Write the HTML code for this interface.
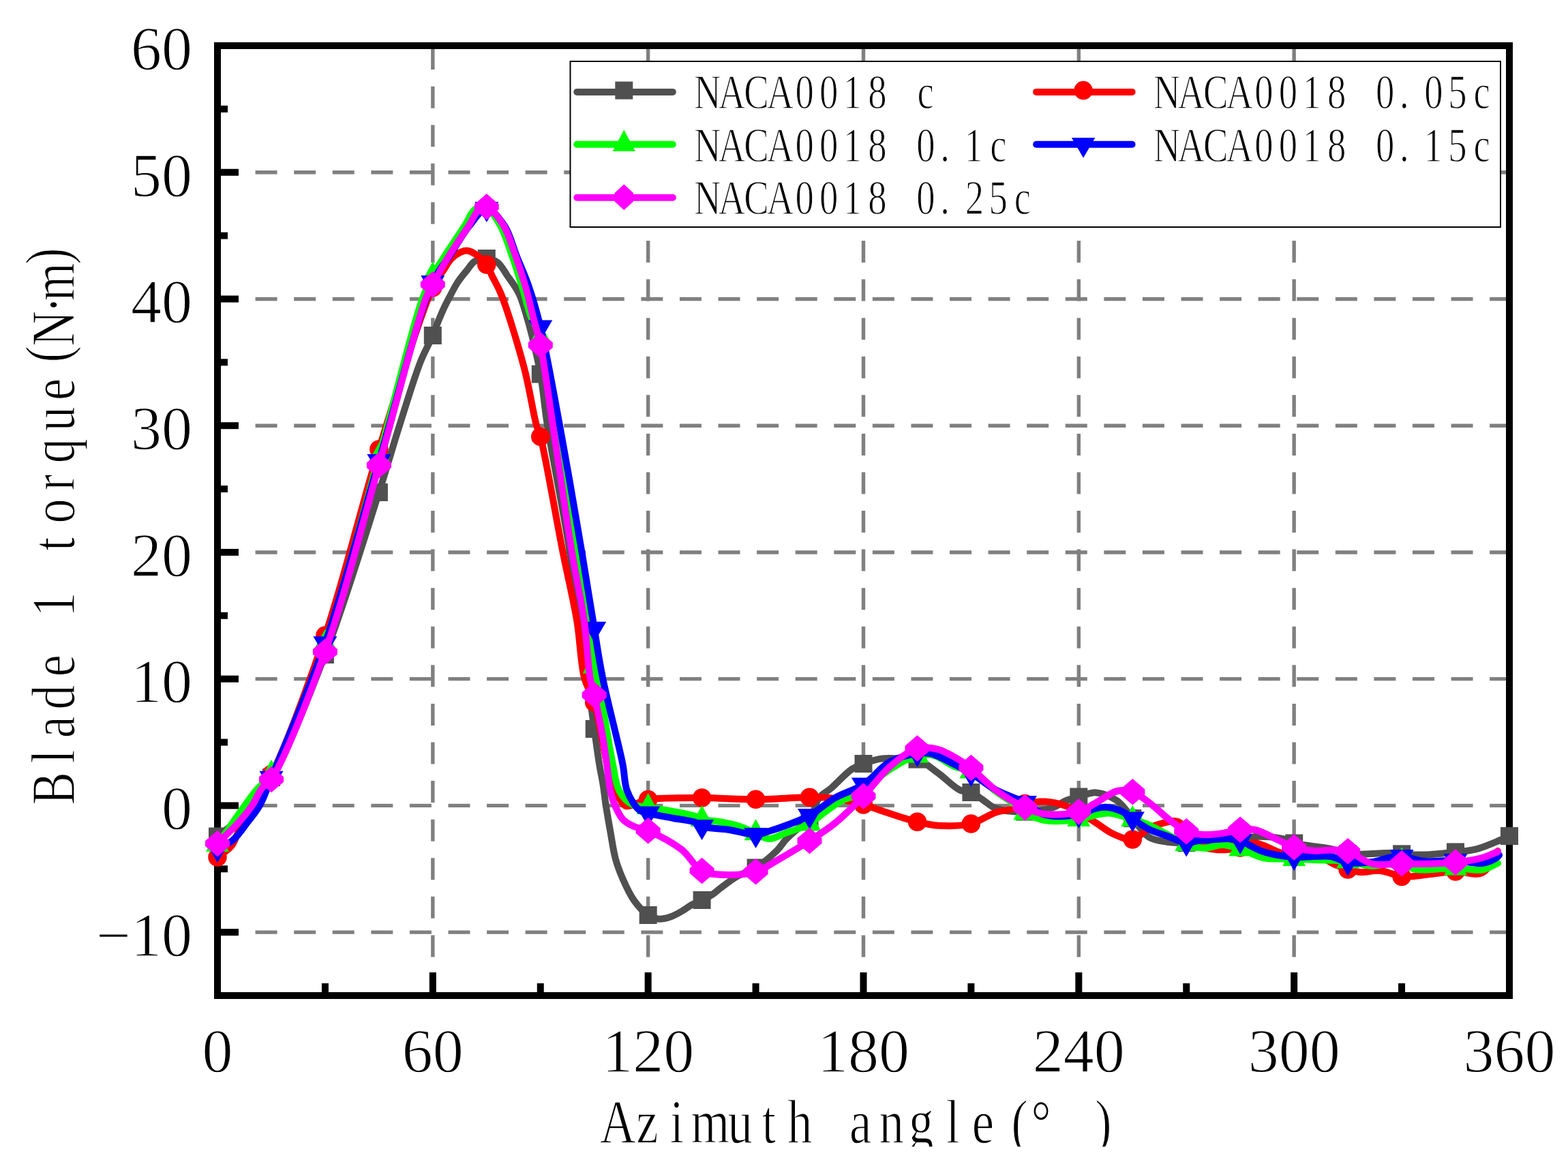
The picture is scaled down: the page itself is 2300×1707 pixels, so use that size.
<!DOCTYPE html>
<html><head><meta charset="utf-8"><title>Blade 1 torque vs Azimuth angle</title>
<style>html,body{margin:0;padding:0;background:#fff;overflow:hidden}svg{display:block}</style>
</head><body>
<svg width="2300" height="1707" viewBox="0 0 2300 1707">
<rect width="2300" height="1707" fill="#fff"/>
<g stroke="#808080" stroke-width="5.4" stroke-dasharray="32 24.58" fill="none"><path d="M318 1367.13H2214"/><path d="M318 1181.40H2214"/><path d="M318 995.67H2214"/><path d="M318 809.93H2214"/><path d="M318 624.20H2214"/><path d="M318 438.47H2214"/><path d="M318 252.73H2214"/><path d="M634.83 1460V67"/><path d="M950.67 1460V67"/><path d="M1266.50 1460V67"/><path d="M1582.33 1460V67"/><path d="M1898.17 1460V67"/></g>
<g fill="#000"><rect x="319" y="1362.13" width="31" height="10"/><rect x="319" y="1176.40" width="31" height="10"/><rect x="319" y="990.67" width="31" height="10"/><rect x="319" y="804.93" width="31" height="10"/><rect x="319" y="619.20" width="31" height="10"/><rect x="319" y="433.47" width="31" height="10"/><rect x="319" y="247.73" width="31" height="10"/><rect x="319" y="1269.27" width="15" height="10"/><rect x="319" y="1083.53" width="15" height="10"/><rect x="319" y="897.80" width="15" height="10"/><rect x="319" y="712.07" width="15" height="10"/><rect x="319" y="526.33" width="15" height="10"/><rect x="319" y="340.60" width="15" height="10"/><rect x="319" y="154.87" width="15" height="10"/><rect x="629.83" y="1426" width="10" height="34"/><rect x="945.67" y="1426" width="10" height="34"/><rect x="1261.50" y="1426" width="10" height="34"/><rect x="1577.33" y="1426" width="10" height="34"/><rect x="1893.17" y="1426" width="10" height="34"/><rect x="471.92" y="1442" width="10" height="18"/><rect x="787.75" y="1442" width="10" height="18"/><rect x="1103.58" y="1442" width="10" height="18"/><rect x="1419.42" y="1442" width="10" height="18"/><rect x="1735.25" y="1442" width="10" height="18"/><rect x="2051.08" y="1442" width="10" height="18"/></g>
<rect x="319" y="67" width="1895" height="1393" fill="none" stroke="#000" stroke-width="10"/>
<g font-family="Liberation Serif, serif" font-size="90" fill="#000" stroke="#fff" stroke-width="1.3"><text x="282" y="1401.93" text-anchor="end">−10</text><text x="282" y="1216.20" text-anchor="end">0</text><text x="282" y="1030.47" text-anchor="end">10</text><text x="282" y="844.73" text-anchor="end">20</text><text x="282" y="659.00" text-anchor="end">30</text><text x="282" y="473.27" text-anchor="end">40</text><text x="282" y="287.53" text-anchor="end">50</text><text x="282" y="101.80" text-anchor="end">60</text><text x="319.00" y="1571.5" text-anchor="middle">0</text><text x="634.83" y="1571.5" text-anchor="middle">60</text><text x="950.67" y="1571.5" text-anchor="middle">120</text><text x="1266.50" y="1571.5" text-anchor="middle">180</text><text x="1582.33" y="1571.5" text-anchor="middle">240</text><text x="1898.17" y="1571.5" text-anchor="middle">300</text><text x="2214.00" y="1571.5" text-anchor="middle">360</text></g>
<path d="M319.0 1226.5C326.0 1221.0 334.1 1215.0 340.0 1210.0C344.6 1206.1 347.0 1204.4 352.0 1199.0C362.7 1187.4 382.3 1166.3 398.0 1140.0C423.4 1097.4 452.0 1024.8 476.9 960.0C505.0 886.8 536.0 784.1 555.9 722.0C568.6 682.3 575.7 656.3 586.0 624.0C596.1 592.3 607.4 554.1 617.0 530.0C623.3 514.3 630.4 502.5 634.8 492.0C637.9 484.8 639.4 479.9 642.0 473.4C644.9 466.2 648.4 457.8 651.7 450.7C654.7 444.3 657.8 438.6 661.0 432.6C664.2 426.5 667.1 420.3 671.0 414.4C675.1 408.2 680.5 401.7 685.0 396.3C688.8 391.6 691.4 386.5 696.0 383.6C700.9 380.6 708.0 378.7 713.8 379.0C719.4 379.3 725.2 381.4 730.0 385.0C735.6 389.2 739.2 397.1 744.0 404.0C749.5 411.9 756.4 420.6 761.0 430.0C765.8 439.8 768.8 451.5 772.0 462.0C775.1 471.9 777.2 479.6 780.0 491.0C783.9 506.9 789.1 528.0 792.8 548.6C796.9 572.0 798.2 593.3 803.0 624.0C810.6 672.3 825.4 742.8 836.0 810.0C848.5 889.1 864.3 1015.9 871.7 1069.0C875.0 1092.6 876.6 1105.3 879.0 1120.0C880.8 1131.3 882.9 1140.0 884.5 1150.0C886.1 1160.0 887.0 1169.3 888.6 1180.0C890.5 1192.4 893.0 1206.7 895.4 1220.0C897.8 1233.3 899.6 1247.8 903.0 1260.0C906.0 1270.9 909.6 1280.1 914.0 1290.0C918.5 1300.1 923.4 1311.2 929.7 1320.0C935.7 1328.4 943.8 1337.4 950.7 1342.0C955.5 1345.3 959.9 1347.1 965.0 1347.6C970.6 1348.2 977.2 1346.6 983.0 1344.7C989.0 1342.8 995.1 1339.1 1000.6 1336.0C1005.7 1333.1 1010.1 1329.4 1015.0 1326.7C1019.8 1324.1 1024.8 1322.4 1029.6 1320.0C1034.5 1317.6 1039.4 1315.4 1044.0 1312.4C1048.8 1309.3 1052.8 1305.5 1058.0 1301.6C1064.5 1296.8 1072.0 1290.7 1080.0 1286.0C1088.7 1280.9 1099.2 1278.4 1108.6 1272.5C1119.2 1265.8 1132.1 1254.9 1140.0 1247.0C1145.6 1241.4 1147.7 1236.4 1153.0 1231.0C1159.5 1224.3 1170.4 1214.9 1177.0 1210.5C1181.0 1207.8 1184.4 1208.5 1187.5 1205.0C1193.1 1198.8 1194.8 1179.0 1201.0 1170.5C1205.9 1163.8 1212.3 1161.7 1219.0 1156.0C1227.9 1148.3 1240.4 1134.1 1249.5 1128.0C1255.6 1123.9 1260.1 1122.4 1266.5 1120.0C1274.3 1117.1 1284.0 1113.8 1293.0 1112.6C1301.9 1111.4 1311.1 1112.3 1320.0 1112.5C1328.6 1112.7 1336.9 1110.8 1345.5 1113.6C1355.9 1117.0 1366.7 1127.0 1377.0 1134.4C1387.5 1142.0 1398.8 1154.4 1408.0 1158.6C1414.0 1161.4 1419.0 1159.8 1424.4 1162.0C1430.4 1164.4 1436.1 1169.4 1442.0 1173.2C1448.1 1177.1 1452.6 1182.4 1460.5 1185.3C1471.5 1189.3 1489.2 1190.7 1503.4 1190.5C1517.4 1190.3 1534.2 1187.6 1545.0 1184.0C1552.5 1181.5 1556.8 1177.0 1563.0 1174.4C1569.2 1171.8 1575.4 1170.4 1582.3 1168.5C1590.3 1166.4 1599.1 1161.8 1608.0 1162.4C1618.0 1163.1 1630.1 1168.3 1639.0 1174.5C1647.9 1180.8 1653.8 1191.3 1661.3 1200.0C1669.1 1209.0 1675.8 1221.8 1685.0 1227.5C1693.0 1232.5 1702.8 1233.3 1712.0 1234.7C1721.2 1236.1 1729.1 1236.1 1740.2 1236.0C1756.5 1235.8 1785.6 1232.5 1800.0 1232.0C1808.2 1231.7 1812.6 1232.7 1819.2 1232.0C1826.3 1231.2 1832.6 1227.6 1841.0 1227.0C1852.3 1226.1 1870.6 1227.7 1881.0 1230.0C1888.1 1231.6 1891.9 1234.8 1898.2 1236.5C1905.4 1238.4 1913.6 1239.2 1922.0 1240.5C1931.4 1242.0 1942.5 1243.0 1952.0 1245.0C1960.8 1246.9 1968.8 1250.8 1977.1 1252.0C1985.1 1253.2 1992.2 1252.7 2001.0 1252.6C2011.8 1252.5 2026.9 1250.9 2037.0 1251.0C2044.4 1251.1 2048.8 1251.9 2056.1 1252.3C2065.8 1252.8 2077.9 1253.8 2090.0 1253.5C2104.0 1253.1 2121.7 1250.9 2135.0 1249.4C2145.8 1248.2 2154.3 1248.1 2164.0 1245.7C2174.3 1243.2 2186.0 1238.0 2195.0 1234.4C2202.2 1231.5 2207.7 1228.8 2214.0 1226.0" fill="none" stroke="#505050" stroke-width="10" stroke-linejoin="round" stroke-linecap="round"/>
<g fill="#505050"><rect x="306.0" y="1213.5" width="26" height="26"/><rect x="385.0" y="1127.0" width="26" height="26"/><rect x="463.9" y="947.0" width="26" height="26"/><rect x="542.9" y="709.0" width="26" height="26"/><rect x="621.8" y="479.0" width="26" height="26"/><rect x="700.8" y="366.0" width="26" height="26"/><rect x="779.8" y="535.6" width="26" height="26"/><rect x="858.7" y="1056.0" width="26" height="26"/><rect x="937.7" y="1329.0" width="26" height="26"/><rect x="1016.6" y="1307.0" width="26" height="26"/><rect x="1095.6" y="1259.5" width="26" height="26"/><rect x="1174.5" y="1192.0" width="26" height="26"/><rect x="1253.5" y="1107.0" width="26" height="26"/><rect x="1332.5" y="1100.6" width="26" height="26"/><rect x="1411.4" y="1149.0" width="26" height="26"/><rect x="1490.4" y="1177.5" width="26" height="26"/><rect x="1569.3" y="1155.5" width="26" height="26"/><rect x="1648.3" y="1187.0" width="26" height="26"/><rect x="1727.2" y="1223.0" width="26" height="26"/><rect x="1806.2" y="1219.0" width="26" height="26"/><rect x="1885.2" y="1223.5" width="26" height="26"/><rect x="1964.1" y="1239.0" width="26" height="26"/><rect x="2043.1" y="1239.3" width="26" height="26"/><rect x="2122.0" y="1236.4" width="26" height="26"/><rect x="2201.0" y="1213.0" width="26" height="26"/></g>
<path d="M319.0 1257.0C326.0 1251.3 334.1 1247.8 340.0 1240.0C347.5 1230.1 351.4 1211.4 357.0 1200.0C361.4 1191.1 365.6 1184.6 370.0 1177.0C374.3 1169.6 378.3 1162.0 383.0 1155.0C387.6 1148.2 392.0 1146.1 398.0 1135.5C415.7 1104.0 452.1 1005.4 476.9 932.0C505.2 848.2 528.7 746.6 555.9 659.0C581.4 576.9 616.2 461.5 634.8 421.7C641.6 407.3 647.0 401.7 652.0 394.0C655.7 388.3 657.9 383.5 662.0 379.4C666.0 375.4 671.5 371.6 676.0 369.7C679.5 368.2 682.5 367.2 686.0 367.7C690.4 368.3 695.6 371.4 700.0 374.5C704.9 378.0 710.1 382.9 713.8 388.0C717.4 393.1 719.0 398.8 722.0 405.0C725.7 412.5 729.8 418.5 734.5 430.0C744.0 453.4 759.9 505.6 769.0 540.0C776.8 569.7 782.2 606.9 787.0 624.0C789.2 631.7 790.5 631.9 792.8 640.4C800.0 667.1 815.9 760.8 825.7 810.0C833.3 848.0 840.9 878.9 846.3 911.0C851.1 939.9 851.5 972.3 857.2 994.0C861.1 1008.8 867.0 1014.5 871.7 1030.0C879.8 1056.4 888.0 1117.0 895.0 1140.0C898.3 1151.0 900.5 1156.4 904.5 1163.6C908.3 1170.4 912.5 1180.0 918.0 1182.0C922.6 1183.7 928.6 1179.6 934.0 1178.0C939.5 1176.4 942.9 1173.9 950.7 1172.5C967.1 1169.6 1003.3 1170.0 1029.6 1170.0C1055.9 1170.0 1082.3 1172.4 1108.6 1172.3C1134.9 1172.2 1167.0 1169.3 1187.5 1169.3C1200.7 1169.3 1208.3 1169.1 1220.0 1170.5C1234.2 1172.2 1253.3 1176.4 1266.5 1180.0C1276.7 1182.8 1282.6 1185.6 1293.0 1189.0C1307.5 1193.7 1330.1 1201.6 1345.5 1205.3C1357.2 1208.1 1365.4 1210.0 1377.0 1210.7C1391.2 1211.5 1410.0 1211.6 1424.4 1208.0C1437.6 1204.7 1449.4 1195.0 1460.5 1191.4C1469.3 1188.5 1477.5 1188.8 1485.0 1186.5C1491.7 1184.4 1496.4 1180.3 1503.4 1178.5C1511.9 1176.3 1523.1 1175.1 1533.0 1175.6C1543.0 1176.1 1554.3 1178.8 1563.0 1181.7C1570.3 1184.2 1575.5 1187.3 1582.3 1191.0C1590.4 1195.4 1599.5 1201.6 1608.0 1207.0C1616.4 1212.3 1624.1 1219.0 1633.0 1223.0C1641.9 1227.0 1652.3 1232.4 1661.3 1231.0C1670.7 1229.5 1680.1 1216.9 1688.0 1213.0C1693.5 1210.3 1697.7 1209.5 1703.0 1208.0C1708.7 1206.4 1716.0 1204.0 1721.0 1204.0C1724.5 1204.0 1727.2 1204.3 1730.0 1206.0C1733.7 1208.2 1736.5 1213.4 1740.2 1218.0C1745.0 1223.8 1749.1 1233.3 1756.0 1238.0C1763.4 1243.0 1774.0 1245.0 1784.0 1246.0C1795.0 1247.1 1809.1 1245.1 1819.2 1243.0C1827.2 1241.3 1831.9 1235.9 1840.0 1236.0C1851.4 1236.1 1870.1 1249.4 1881.0 1251.0C1887.8 1252.0 1891.2 1249.5 1898.2 1250.0C1909.1 1250.8 1929.0 1254.7 1940.0 1258.6C1947.8 1261.3 1952.7 1265.5 1959.0 1268.3C1965.0 1270.9 1971.0 1273.2 1977.1 1275.0C1983.0 1276.7 1988.2 1278.5 1995.0 1279.0C2003.7 1279.7 2015.0 1276.0 2025.0 1277.0C2035.4 1278.0 2047.1 1284.4 2056.1 1285.5C2062.8 1286.3 2066.3 1285.6 2074.0 1285.0C2088.3 1284.0 2116.9 1278.6 2135.0 1278.0C2149.5 1277.5 2163.7 1285.0 2174.0 1280.0C2184.4 1275.0 2189.3 1258.7 2197.0 1248.0" fill="none" stroke="#ff0000" stroke-width="10" stroke-linejoin="round" stroke-linecap="round"/>
<g fill="#ff0000"><circle cx="319.0" cy="1257.0" r="13.75"/><circle cx="398.0" cy="1135.5" r="13.75"/><circle cx="476.9" cy="932.0" r="13.75"/><circle cx="555.9" cy="659.0" r="13.75"/><circle cx="634.8" cy="421.7" r="13.75"/><circle cx="713.8" cy="388.0" r="13.75"/><circle cx="792.8" cy="640.4" r="13.75"/><circle cx="871.7" cy="1030.0" r="13.75"/><circle cx="950.7" cy="1172.5" r="13.75"/><circle cx="1029.6" cy="1170.0" r="13.75"/><circle cx="1108.6" cy="1172.3" r="13.75"/><circle cx="1187.5" cy="1169.3" r="13.75"/><circle cx="1266.5" cy="1180.0" r="13.75"/><circle cx="1345.5" cy="1205.3" r="13.75"/><circle cx="1424.4" cy="1208.0" r="13.75"/><circle cx="1503.4" cy="1178.5" r="13.75"/><circle cx="1582.3" cy="1191.0" r="13.75"/><circle cx="1661.3" cy="1231.0" r="13.75"/><circle cx="1740.2" cy="1218.0" r="13.75"/><circle cx="1819.2" cy="1243.0" r="13.75"/><circle cx="1898.2" cy="1250.0" r="13.75"/><circle cx="1977.1" cy="1275.0" r="13.75"/><circle cx="2056.1" cy="1285.5" r="13.75"/><circle cx="2135.0" cy="1278.0" r="13.75"/></g>
<path d="M319.0 1238.5C337.7 1212.3 360.0 1178.7 375.0 1160.0C383.9 1148.9 389.4 1148.1 398.0 1134.6C419.0 1101.3 452.4 1013.3 476.9 943.0C505.7 860.6 531.3 756.7 555.9 669.5C578.4 589.7 603.7 483.1 619.0 440.0C625.2 422.5 629.0 415.1 634.8 404.0C640.1 393.9 645.4 386.4 652.0 376.0C660.5 362.6 673.8 343.2 682.0 330.5C687.9 321.4 690.8 310.9 697.0 307.0C701.9 304.0 708.5 302.8 713.8 305.0C721.2 308.1 728.1 320.7 734.0 331.0C741.1 343.5 746.1 360.9 751.5 376.0C756.8 390.9 761.4 406.1 766.0 421.0C770.5 435.7 774.1 451.9 779.0 465.0C783.2 476.1 788.6 481.1 792.8 495.0C801.0 522.6 804.3 577.1 812.0 624.0C821.2 680.4 835.6 757.4 845.0 810.0C851.9 848.8 858.3 880.9 863.0 911.0C866.8 935.3 868.3 957.5 871.7 977.0C874.5 992.6 877.6 1001.9 881.0 1019.0C886.2 1045.4 893.3 1094.1 898.7 1120.0C902.1 1136.4 902.7 1149.5 908.5 1160.0C913.2 1168.6 920.4 1176.1 927.8 1180.0C934.6 1183.5 941.0 1181.9 950.7 1183.6C967.5 1186.6 1007.6 1193.0 1020.0 1197.0C1024.8 1198.6 1025.4 1200.2 1029.6 1201.5C1036.8 1203.7 1050.4 1204.1 1060.0 1206.0C1068.8 1207.7 1076.9 1209.4 1085.0 1212.0C1093.1 1214.6 1101.1 1218.7 1108.6 1221.8C1115.4 1224.6 1121.1 1229.8 1128.0 1230.0C1135.8 1230.3 1144.8 1224.3 1153.0 1221.4C1161.1 1218.6 1170.7 1215.6 1177.0 1213.0C1181.3 1211.2 1183.4 1210.5 1187.5 1208.0C1194.4 1203.9 1204.5 1194.7 1213.0 1188.7C1221.0 1183.0 1228.3 1177.2 1237.0 1173.0C1246.1 1168.6 1257.5 1168.5 1266.5 1163.0C1276.3 1157.0 1282.0 1145.2 1293.0 1137.0C1307.0 1126.6 1330.8 1111.8 1345.5 1108.0C1354.8 1105.6 1361.7 1105.9 1370.0 1108.0C1379.8 1110.4 1390.3 1120.1 1400.0 1124.0C1408.4 1127.4 1416.0 1126.6 1424.4 1131.0C1435.8 1136.9 1449.0 1151.8 1460.0 1160.0C1468.9 1166.6 1477.4 1171.3 1485.0 1177.0C1491.7 1182.0 1496.1 1187.8 1503.4 1192.0C1511.7 1196.8 1521.7 1201.1 1533.0 1203.0C1547.2 1205.3 1568.6 1203.4 1582.3 1201.5C1592.4 1200.1 1600.0 1196.5 1608.0 1195.0C1614.8 1193.7 1619.8 1192.1 1627.0 1192.6C1636.8 1193.2 1651.0 1198.5 1661.3 1201.6C1670.0 1204.2 1675.6 1205.6 1685.0 1209.5C1699.8 1215.7 1725.0 1231.9 1740.2 1237.5C1750.2 1241.2 1757.3 1243.4 1766.0 1243.7C1774.9 1244.0 1784.1 1238.8 1793.0 1239.0C1801.8 1239.2 1810.0 1242.2 1819.2 1245.0C1829.9 1248.3 1840.7 1255.5 1853.0 1258.0C1866.8 1260.8 1884.7 1258.9 1898.2 1259.5C1909.1 1260.0 1916.8 1260.5 1928.0 1261.0C1942.3 1261.7 1962.1 1261.2 1977.1 1263.0C1990.1 1264.5 2000.5 1269.8 2013.0 1270.0C2026.7 1270.2 2045.1 1260.5 2056.1 1262.8C2063.7 1264.4 2065.8 1272.1 2074.0 1274.4C2087.9 1278.3 2117.0 1272.6 2135.0 1273.0C2149.5 1273.3 2162.9 1277.3 2174.0 1275.5C2182.9 1274.0 2189.3 1269.2 2197.0 1266.0" fill="none" stroke="#00ff00" stroke-width="10" stroke-linejoin="round" stroke-linecap="round"/>
<g fill="#00ff00"><path d="M319.0 1218.0l17 31h-34z"/><path d="M398.0 1114.1l17 31h-34z"/><path d="M476.9 922.5l17 31h-34z"/><path d="M555.9 649.0l17 31h-34z"/><path d="M634.8 383.5l17 31h-34z"/><path d="M713.8 284.5l17 31h-34z"/><path d="M792.8 474.5l17 31h-34z"/><path d="M871.7 956.5l17 31h-34z"/><path d="M950.7 1163.1l17 31h-34z"/><path d="M1029.6 1181.0l17 31h-34z"/><path d="M1108.6 1201.3l17 31h-34z"/><path d="M1187.5 1187.5l17 31h-34z"/><path d="M1266.5 1142.5l17 31h-34z"/><path d="M1345.5 1087.5l17 31h-34z"/><path d="M1424.4 1110.5l17 31h-34z"/><path d="M1503.4 1171.5l17 31h-34z"/><path d="M1582.3 1181.0l17 31h-34z"/><path d="M1661.3 1181.1l17 31h-34z"/><path d="M1740.2 1217.0l17 31h-34z"/><path d="M1819.2 1224.5l17 31h-34z"/><path d="M1898.2 1239.0l17 31h-34z"/><path d="M1977.1 1242.5l17 31h-34z"/><path d="M2056.1 1242.3l17 31h-34z"/><path d="M2135.0 1252.5l17 31h-34z"/></g>
<path d="M319.0 1245.0C326.7 1240.6 335.0 1237.7 342.0 1231.7C349.8 1225.0 356.4 1214.6 363.0 1206.0C369.4 1197.7 375.6 1190.7 381.0 1181.0C387.5 1169.5 390.4 1159.3 398.0 1140.8C414.8 1099.9 452.1 1014.7 476.9 943.3C505.3 861.5 529.4 764.6 555.9 676.0C582.1 588.2 613.1 461.4 634.8 414.0C643.6 394.8 650.5 389.2 659.0 376.0C668.4 361.5 678.8 342.9 689.0 330.5C697.1 320.6 705.4 306.1 713.8 306.0C722.4 305.9 732.9 320.5 740.0 331.0C748.2 343.1 752.0 361.0 758.0 376.0C764.0 391.0 770.5 404.9 776.0 421.0C782.2 439.1 787.0 455.6 792.8 479.6C801.7 516.9 811.5 572.8 821.0 624.0C831.7 682.0 844.6 757.4 853.5 810.0C860.0 848.7 864.7 879.0 870.0 911.0C874.8 940.0 877.9 963.6 884.0 994.0C891.6 1031.7 907.2 1089.7 913.3 1120.0C916.7 1137.0 915.5 1148.3 920.0 1160.0C924.0 1170.6 931.1 1182.7 937.5 1187.8C941.7 1191.1 945.1 1191.0 950.7 1192.5C959.9 1195.1 976.0 1197.7 988.0 1200.0C999.1 1202.1 1012.6 1203.1 1020.0 1206.0C1024.4 1207.7 1025.1 1210.4 1029.6 1212.0C1038.3 1215.1 1056.7 1215.0 1070.0 1217.0C1083.0 1219.0 1097.9 1224.4 1108.6 1224.0C1116.2 1223.7 1121.2 1221.0 1128.0 1219.0C1135.8 1216.7 1144.1 1213.9 1153.0 1210.5C1163.7 1206.5 1176.1 1202.3 1187.5 1196.0C1200.1 1189.1 1211.9 1177.6 1225.0 1170.0C1238.2 1162.4 1253.5 1158.9 1266.5 1150.5C1280.2 1141.6 1291.2 1125.1 1305.0 1117.5C1317.6 1110.5 1334.3 1106.7 1345.5 1105.0C1353.0 1103.9 1357.7 1103.4 1365.0 1105.0C1375.6 1107.3 1391.3 1116.7 1402.0 1122.0C1410.5 1126.2 1416.2 1129.1 1424.4 1134.0C1435.1 1140.4 1447.2 1151.0 1460.0 1158.0C1473.4 1165.4 1490.5 1170.3 1503.4 1177.0C1514.4 1182.7 1521.3 1191.8 1533.0 1195.0C1546.9 1198.8 1568.7 1196.8 1582.3 1194.4C1592.4 1192.6 1600.0 1187.0 1608.0 1185.4C1614.7 1184.0 1620.4 1183.3 1627.0 1184.2C1634.6 1185.3 1644.9 1189.3 1651.0 1192.6C1655.4 1194.9 1657.1 1197.4 1661.3 1200.4C1667.5 1204.8 1676.6 1211.7 1685.0 1216.0C1693.5 1220.3 1702.9 1222.6 1712.0 1226.0C1721.3 1229.5 1732.0 1235.9 1740.2 1236.5C1746.5 1237.0 1750.7 1233.9 1757.0 1233.0C1764.9 1231.9 1775.9 1231.5 1784.0 1231.0C1790.6 1230.6 1796.1 1229.7 1802.0 1230.0C1807.8 1230.3 1812.7 1230.9 1819.2 1233.0C1828.8 1236.0 1840.6 1245.1 1853.0 1249.0C1866.7 1253.4 1884.6 1256.0 1898.2 1257.0C1909.1 1257.8 1918.6 1256.2 1928.0 1256.0C1936.4 1255.9 1944.0 1254.7 1952.0 1256.0C1960.4 1257.4 1967.9 1263.2 1977.1 1264.7C1987.9 1266.4 2002.3 1265.4 2013.0 1264.0C2021.9 1262.8 2029.4 1259.3 2037.0 1258.0C2043.7 1256.8 2048.8 1255.6 2056.1 1256.0C2065.8 1256.5 2077.8 1261.9 2090.0 1263.0C2103.9 1264.2 2120.6 1261.3 2135.0 1261.9C2148.5 1262.4 2163.1 1267.4 2174.0 1266.0C2182.2 1264.9 2190.9 1260.7 2195.0 1258.0C2197.1 1256.7 2197.7 1255.3 2199.0 1254.0" fill="none" stroke="#0000ff" stroke-width="10" stroke-linejoin="round" stroke-linecap="round"/>
<g fill="#0000ff"><path d="M319.0 1265.0l17.5 -30h-35z"/><path d="M398.0 1160.8l17.5 -30h-35z"/><path d="M476.9 963.3l17.5 -30h-35z"/><path d="M555.9 696.0l17.5 -30h-35z"/><path d="M634.8 434.0l17.5 -30h-35z"/><path d="M713.8 326.0l17.5 -30h-35z"/><path d="M792.8 499.6l17.5 -30h-35z"/><path d="M871.7 941.7l17.5 -30h-35z"/><path d="M950.7 1212.5l17.5 -30h-35z"/><path d="M1029.6 1232.0l17.5 -30h-35z"/><path d="M1108.6 1244.0l17.5 -30h-35z"/><path d="M1187.5 1216.0l17.5 -30h-35z"/><path d="M1266.5 1170.5l17.5 -30h-35z"/><path d="M1345.5 1125.0l17.5 -30h-35z"/><path d="M1424.4 1154.0l17.5 -30h-35z"/><path d="M1503.4 1197.0l17.5 -30h-35z"/><path d="M1582.3 1214.4l17.5 -30h-35z"/><path d="M1661.3 1220.4l17.5 -30h-35z"/><path d="M1740.2 1256.5l17.5 -30h-35z"/><path d="M1819.2 1253.0l17.5 -30h-35z"/><path d="M1898.2 1277.0l17.5 -30h-35z"/><path d="M1977.1 1284.7l17.5 -30h-35z"/><path d="M2056.1 1276.0l17.5 -30h-35z"/><path d="M2135.0 1281.9l17.5 -30h-35z"/></g>
<path d="M319.0 1237.0C329.3 1226.7 341.0 1216.0 350.0 1206.0C357.7 1197.4 364.2 1189.6 370.0 1181.0C375.5 1172.9 378.8 1162.7 384.0 1156.0C388.3 1150.6 392.5 1150.8 398.0 1143.0C415.8 1117.5 452.5 1024.8 476.9 955.7C505.8 873.9 530.6 771.1 555.9 682.3C579.8 598.2 611.1 472.2 625.0 436.5C629.1 426.1 630.8 424.7 634.8 417.1C640.8 405.9 649.5 389.9 658.0 376.0C667.1 361.1 679.9 343.1 688.0 330.5C693.6 321.7 696.7 312.4 702.0 308.0C705.6 305.0 709.5 302.4 713.8 303.4C721.1 305.1 731.7 319.6 738.5 330.5C746.4 343.1 751.0 360.8 756.5 376.0C761.9 391.0 766.7 405.9 771.0 421.0C775.3 436.1 778.7 452.1 782.5 466.8C786.0 480.4 789.3 489.3 792.8 506.0C798.7 534.7 804.3 580.2 811.0 624.0C819.4 679.0 830.4 757.4 839.0 810.0C845.4 848.8 852.5 878.9 857.0 911.0C861.1 939.9 862.2 974.4 865.6 994.0C867.5 1004.9 869.4 1009.0 871.7 1019.2C875.2 1035.0 880.8 1061.8 884.0 1080.0C886.6 1094.7 888.1 1106.8 890.0 1120.0C891.8 1132.8 892.7 1147.1 895.0 1158.0C896.8 1166.4 898.5 1172.8 901.5 1180.0C904.7 1187.5 908.8 1196.5 914.0 1202.0C918.5 1206.7 924.1 1209.3 930.0 1212.0C936.3 1214.9 942.5 1214.8 950.7 1218.3C963.8 1223.9 986.3 1235.4 1000.0 1246.0C1011.9 1255.3 1017.8 1270.9 1029.6 1277.0C1041.2 1283.0 1056.7 1282.8 1070.0 1283.0C1083.0 1283.2 1096.7 1282.1 1108.6 1278.3C1120.1 1274.7 1128.9 1267.9 1140.5 1261.3C1154.8 1253.2 1172.9 1242.4 1187.5 1232.9C1200.9 1224.3 1212.6 1217.1 1225.0 1207.0C1238.9 1195.7 1253.2 1181.2 1266.5 1167.5C1279.9 1153.8 1291.2 1136.7 1305.0 1124.7C1317.7 1113.7 1332.2 1101.1 1345.5 1097.5C1356.1 1094.6 1366.4 1096.4 1377.0 1099.3C1389.2 1102.7 1405.6 1113.6 1414.0 1118.7C1418.7 1121.5 1420.0 1122.5 1424.4 1126.0C1433.0 1132.8 1447.4 1149.1 1460.5 1158.7C1473.7 1168.4 1490.1 1178.0 1503.4 1184.0C1513.9 1188.8 1521.7 1192.4 1533.0 1193.8C1547.2 1195.6 1568.9 1194.3 1582.3 1190.5C1592.6 1187.6 1599.1 1181.8 1608.0 1177.0C1617.9 1171.7 1629.2 1162.2 1639.0 1160.0C1646.8 1158.2 1653.6 1158.7 1661.3 1161.3C1671.4 1164.8 1684.1 1176.1 1693.0 1183.0C1700.0 1188.4 1704.1 1193.3 1711.0 1198.7C1719.4 1205.3 1730.3 1215.1 1740.2 1219.3C1748.7 1222.9 1757.3 1223.5 1766.0 1224.0C1774.9 1224.5 1784.1 1223.2 1793.0 1222.0C1801.8 1220.8 1810.8 1217.5 1819.2 1216.7C1826.8 1216.0 1833.0 1215.3 1841.0 1217.0C1851.7 1219.3 1866.6 1228.2 1877.0 1232.9C1885.0 1236.5 1890.3 1240.1 1898.2 1242.5C1907.1 1245.3 1918.5 1247.1 1928.0 1247.7C1936.7 1248.2 1944.7 1246.4 1953.0 1246.5C1961.1 1246.6 1968.6 1245.9 1977.1 1248.3C1988.2 1251.5 2000.1 1264.0 2013.0 1267.0C2026.3 1270.1 2043.8 1266.1 2056.1 1266.2C2065.2 1266.3 2070.4 1267.1 2080.0 1267.0C2094.6 1266.9 2118.3 1266.3 2135.0 1264.5C2149.2 1263.0 2162.9 1261.1 2174.0 1258.0C2182.8 1255.6 2189.3 1252.0 2197.0 1249.0" fill="none" stroke="#ff00ff" stroke-width="10" stroke-linejoin="round" stroke-linecap="round"/>
<g fill="#ff00ff"><path d="M319.0 1217.8l18 15.55v7.4l-18 15.55l-18 -15.55v-7.4z"/><path d="M398.0 1123.8l18 15.55v7.4l-18 15.55l-18 -15.55v-7.4z"/><path d="M476.9 936.5l18 15.55v7.4l-18 15.55l-18 -15.55v-7.4z"/><path d="M555.9 663.0l18 15.55v7.4l-18 15.55l-18 -15.55v-7.4z"/><path d="M634.8 397.9l18 15.55v7.4l-18 15.55l-18 -15.55v-7.4z"/><path d="M713.8 284.1l18 15.55v7.4l-18 15.55l-18 -15.55v-7.4z"/><path d="M792.8 486.8l18 15.55v7.4l-18 15.55l-18 -15.55v-7.4z"/><path d="M871.7 1000.0l18 15.55v7.4l-18 15.55l-18 -15.55v-7.4z"/><path d="M950.7 1199.0l18 15.55v7.4l-18 15.55l-18 -15.55v-7.4z"/><path d="M1029.6 1257.8l18 15.55v7.4l-18 15.55l-18 -15.55v-7.4z"/><path d="M1108.6 1259.0l18 15.55v7.4l-18 15.55l-18 -15.55v-7.4z"/><path d="M1187.5 1213.7l18 15.55v7.4l-18 15.55l-18 -15.55v-7.4z"/><path d="M1266.5 1148.2l18 15.55v7.4l-18 15.55l-18 -15.55v-7.4z"/><path d="M1345.5 1078.2l18 15.55v7.4l-18 15.55l-18 -15.55v-7.4z"/><path d="M1424.4 1106.8l18 15.55v7.4l-18 15.55l-18 -15.55v-7.4z"/><path d="M1503.4 1164.8l18 15.55v7.4l-18 15.55l-18 -15.55v-7.4z"/><path d="M1582.3 1171.2l18 15.55v7.4l-18 15.55l-18 -15.55v-7.4z"/><path d="M1661.3 1142.0l18 15.55v7.4l-18 15.55l-18 -15.55v-7.4z"/><path d="M1740.2 1200.0l18 15.55v7.4l-18 15.55l-18 -15.55v-7.4z"/><path d="M1819.2 1197.5l18 15.55v7.4l-18 15.55l-18 -15.55v-7.4z"/><path d="M1898.2 1223.2l18 15.55v7.4l-18 15.55l-18 -15.55v-7.4z"/><path d="M1977.1 1229.0l18 15.55v7.4l-18 15.55l-18 -15.55v-7.4z"/><path d="M2056.1 1247.0l18 15.55v7.4l-18 15.55l-18 -15.55v-7.4z"/><path d="M2135.0 1245.2l18 15.55v7.4l-18 15.55l-18 -15.55v-7.4z"/></g>
<g><rect x="836.5" y="90" width="1364.5" height="243" fill="#fff" stroke="#000" stroke-width="2"/><path d="M846.30 134.90H986.80" stroke="#505050" stroke-width="10" stroke-linecap="round"/><rect x="902.30" y="119.60" width="26" height="26" fill="#505050"/><path d="M1520.10 134.90H1660.60" stroke="#ff0000" stroke-width="10" stroke-linecap="round"/><circle cx="1589.10" cy="132.60" r="13.75" fill="#ff0000"/><path d="M846.30 211.80H986.80" stroke="#00ff00" stroke-width="10" stroke-linecap="round"/><path d="M915.30 190.50l16.6 31.3h-33.2z" fill="#00ff00"/><path d="M1520.10 211.80H1660.60" stroke="#0000ff" stroke-width="10" stroke-linecap="round"/><path d="M1589.10 231.40l17.25 -29.5h-34.5z" fill="#0000ff"/><path d="M846.30 289.70H986.80" stroke="#ff00ff" stroke-width="10" stroke-linecap="round"/><path d="M915.30 270.20l13.7 12.8v12.4l-13.7 12.6l-13.7 -12.6v-12.4z" fill="#ff00ff"/></g>
<g font-family="Liberation Serif, serif" fill="#000" stroke="#fff" stroke-width="1.3"><text transform="translate(1020.00 159.20) scale(0.760 1)" x="-2.66 44.26 93.63 137.84 192.71 239.50 285.29 333.08 369.08 428.42" y="0" font-size="72.00">NACA0018 c</text><text transform="translate(1693.80 159.20) scale(0.760 1)" x="-2.66 44.26 93.63 137.84 192.71 239.50 285.29 333.08 369.08 426.66 472.58 520.24 566.34 615.57" y="0" font-size="72.00">NACA0018 0.05c</text><text transform="translate(1020.00 236.50) scale(0.760 1)" x="-2.66 44.26 93.63 137.84 192.71 239.50 285.29 333.08 369.08 426.66 472.58 519.23 568.78" y="0" font-size="72.00">NACA0018 0.1c</text><text transform="translate(1693.80 236.50) scale(0.760 1)" x="-2.66 44.26 93.63 137.84 192.71 239.50 285.29 333.08 369.08 426.66 472.58 519.23 566.34 615.57" y="0" font-size="72.00">NACA0018 0.15c</text><text transform="translate(1020.00 313.70) scale(0.760 1)" x="-2.66 44.26 93.63 137.84 192.71 239.50 285.29 333.08 369.08 426.66 472.58 520.64 566.34 615.57" y="0" font-size="72.00">NACA0018 0.25c</text></g>
<defs><clipPath id="xclip"><rect x="0" y="1500" width="2300" height="181.5"/></clipPath></defs>
<g font-family="Liberation Serif, serif" fill="#000" clip-path="url(#xclip)" stroke="#fff" stroke-width="1.3"><text transform="translate(880.00 1676.00) scale(0.800 1)" x="0.16 66.72 128.52 166.86 234.30 297.18 343.66 389.16 457.58 511.89 566.16 634.23 682.10 754.31 790.60 907.88" y="0" font-size="91.00">Azimuth angle(°)</text></g>
<g font-family="Liberation Serif, serif" fill="#000" transform="translate(108.5 0) rotate(-90)" stroke="#fff" stroke-width="1.3"><text transform="translate(-1180.00 0.00) scale(0.800 1)" x="-0.24 75.75 122.19 174.30 234.70 274.65 344.37 389.37 465.20 515.50 575.76 625.81 684.80 741.20 810.74 840.36 901.26 923.51 990.54" y="0.00 0.00 0.00 0.00 0.00 0.00 0.00 0.00 0.00 0.00 0.00 0.00 0.00 0.00 -9.00 0.00 0.00 0.00 -9.00" font-size="90.00">Blade 1 torque(N·m)</text></g>
</svg>
</body></html>
